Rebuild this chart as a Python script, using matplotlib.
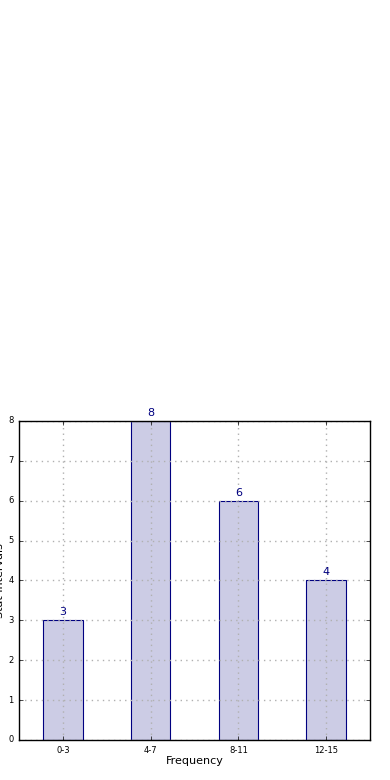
import numpy as np
import matplotlib
matplotlib.use('Agg')
import matplotlib.pyplot as plt

intervals = ['0-3', '4-7', '8-11', '12-15']
counts = [3, 8, 6, 4]

plt.style.use('classic')
fig = plt.figure(figsize=(3.9, 7.8), dpi=100)
ax = fig.add_axes([0.0487, 0.0513, 0.9, 0.409])

x = np.arange(len(intervals))
ax.bar(x, counts, width=0.45, align='center', color='navy', alpha=0.2,
       edgecolor='none')
ax.bar(x, counts, width=0.45, align='center', fill=False, edgecolor='navy',
       linewidth=0.8)

for xi, c in zip(x, counts):
    ax.text(xi, c + 0.08, str(c), ha='center', va='bottom', color='navy', fontsize=8)

ax.set_xlim(-0.5, 3.5)
ax.set_ylim(0, 8)
ax.set_xticks(x)
ax.set_xticklabels(intervals)
ax.set_yticks(range(0, 9))
ax.tick_params(labelsize=6, direction='in', length=3)
ax.grid(True, color='#b0b0b0', linestyle=':', linewidth=1)
ax.set_axisbelow(False)
for sp in ax.spines.values():
    sp.set_zorder(5)
ax.set_xlabel('Frequency', fontsize=8, labelpad=1)
ax.set_ylabel('Stat Intervals', fontsize=8, labelpad=2)

plt.savefig('out.png', dpi=100)
